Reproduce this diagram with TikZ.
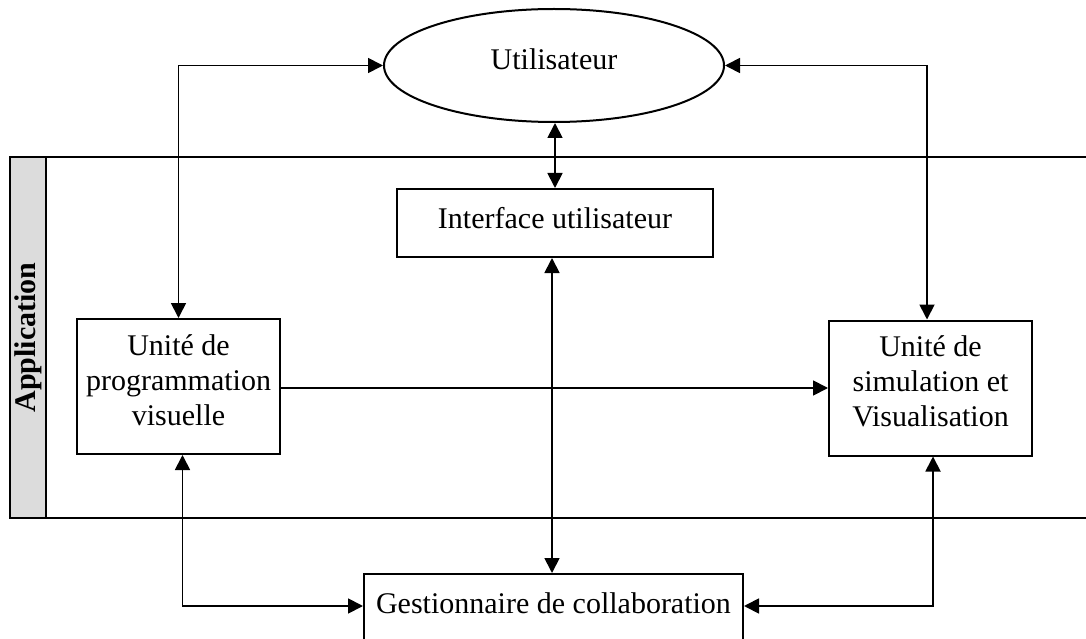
\documentclass[tikz,border=0pt]{standalone}
\usepackage{fontspec}
\setmainfont{Liberation Serif}
\usetikzlibrary{arrows.meta,shapes.geometric,calc}
\definecolor{stripgray}{RGB}{220,220,220}
\begin{document}
\begin{tikzpicture}[x=1pt,y=-1pt,
  every node/.style={font=\fontsize{30}{35}\selectfont},
  frame/.style={line width=2pt},
  unit/.style={draw,line width=2pt,align=center,inner sep=0pt},
  tip/.tip={Triangle[length=15pt,width=15pt]},
  link/.style={line width=1.8pt,-tip},
  both/.style={line width=1.8pt,tip-tip}]
\useasboundingbox (0,0) rectangle (1086,639);
\clip (0,0) rectangle (1086,639);

% application band with its side label
\draw[frame] (10,157) rectangle (1110,518);
\draw[frame, fill=stripgray] (10,157) rectangle (46,518);
\node[rotate=90, font=\fontsize{30}{35}\selectfont\bfseries] (app) at (28,337.5) {Application};

% actors and components
\node[ellipse, draw, line width=2pt, minimum width=340pt, minimum height=113pt,
      inner sep=0pt, text height=20.5pt, text depth=13pt] (user) at (554,65.5) {Utilisateur};
\node[unit, minimum width=316pt, minimum height=68pt,
      text height=20.5pt, text depth=10.5pt] (iface) at (555,223) {Interface utilisateur};
\node[unit, minimum width=203pt, minimum height=135pt,
      text height=91pt, text depth=14pt] (prog) at (178.5,386.5) {Unité de\\programmation\\visuelle};
\node[unit, minimum width=203pt, minimum height=135pt,
      text height=91pt, text depth=15pt] (sim) at (930.5,388) {Unité de\\simulation et\\Visualisation};
\node[draw, line width=2pt, anchor=north, minimum width=379pt, inner xsep=0pt,
      inner ysep=18.5pt, text height=20.5pt, text depth=60pt] (gest) at (553.5,573) {Gestionnaire de collaboration};

\coordinate (gl) at ([yshift=-33pt]gest.north west);
\coordinate (gr) at ([yshift=-33pt]gest.north east);

% connectors
\draw[both] (user.west) -| (prog.north);
\draw[both] (user.east) -| ([xshift=-3.5pt]sim.north);
\draw[both] (iface.north |- user.south) -- (iface.north);
\draw[both] ([xshift=-3pt]iface.south) -- ([xshift=-3pt]iface.south |- gest.north);
\draw[link] (sim.west -| prog.east) -- (sim.west);
\draw[both] ([xshift=4pt]prog.south) |- (gl);
\draw[both] ([xshift=2.5pt]sim.south) |- (gr);
\end{tikzpicture}
\end{document}
